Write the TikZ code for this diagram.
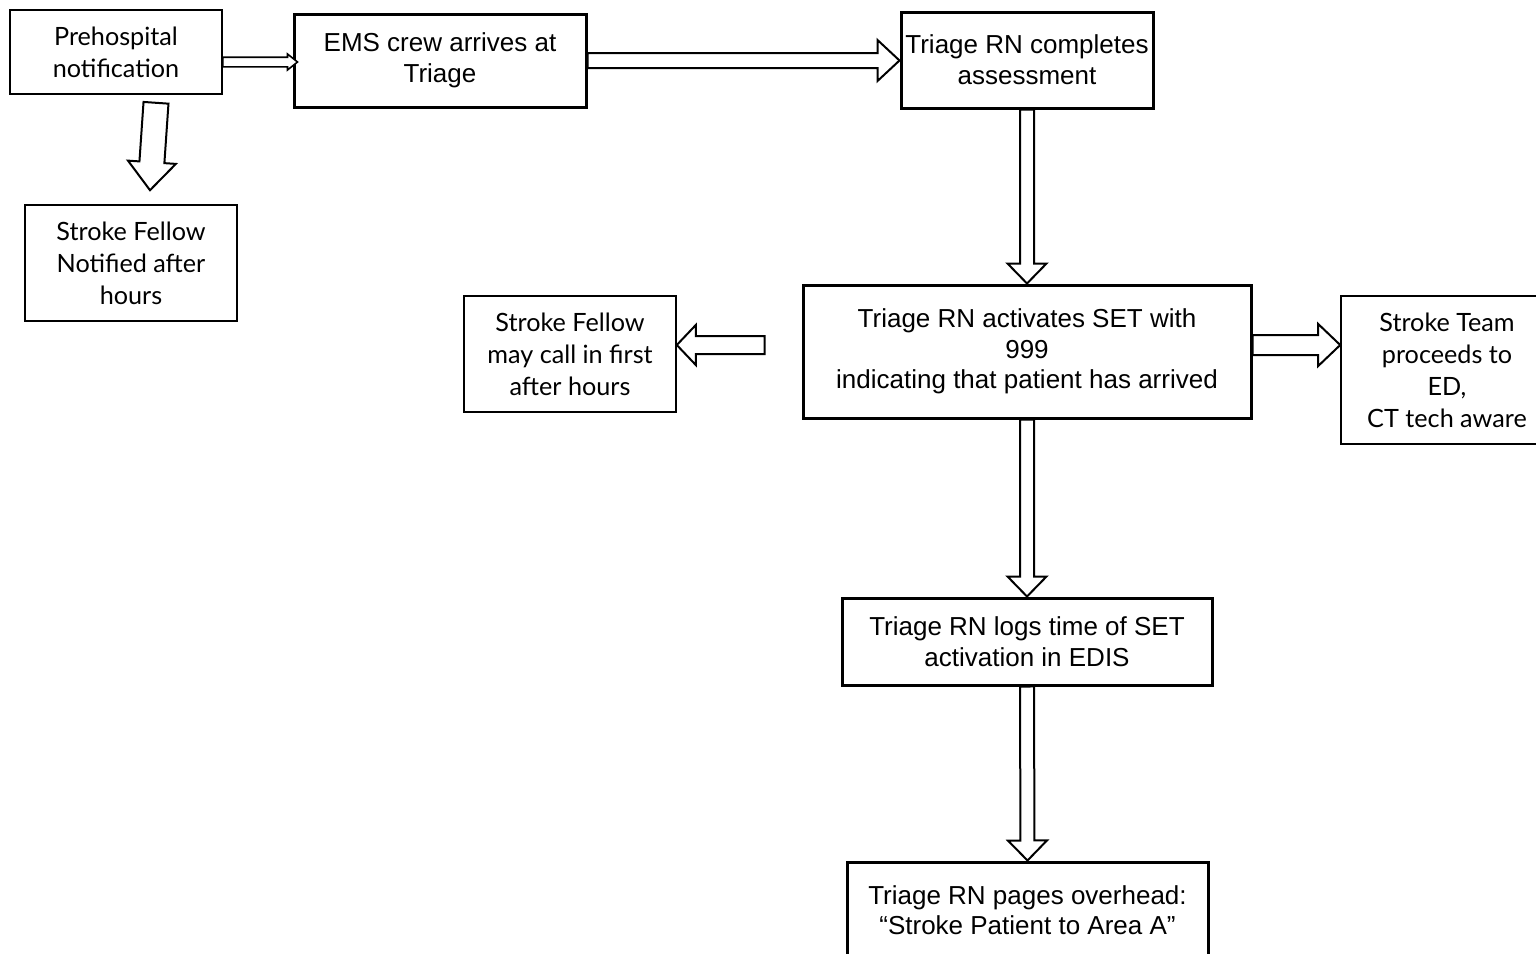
\documentclass[tikz,border=0pt]{standalone}
\usepackage{fontspec}
\setmainfont{Liberation Sans}
\newfontfamily\gillfont{Lato}
\usetikzlibrary{calc}

\tikzset{
  x=0.5pt, y=-0.5pt,
  thinbox/.style={draw, line width=0.8pt, inner sep=0pt, align=center,
    font=\gillfont\fontsize{12.6}{16}\selectfont},
  thickbox/.style={draw, line width=1.5pt, inner sep=0pt, align=center,
    font=\fontsize{13}{15.3}\selectfont},
  blockarr/.style={draw, fill=white, line width=1pt, line join=miter},
}

% hollow block arrow: [options] {tail} {tip} {shaft half width} {head half width} {head length}
\newcommand\blockarrow[6][]{%
  \draw[blockarr,#1]
    ($(#2)!#4!90:(#3)$)
    -- ($(#3)!#6!(#2)!#4!90:(#3)$)
    -- ($(#3)!#6!(#2)!#5!90:(#3)$)
    -- (#3)
    -- ($(#3)!#6!(#2)!#5!-90:(#3)$)
    -- ($(#3)!#6!(#2)!#4!-90:(#3)$)
    -- ($(#2)!#4!-90:(#3)$)
    -- cycle;}

\begin{document}
\begin{tikzpicture}
\useasboundingbox (0,0) rectangle (1536,953);
\clip (0,0) rectangle (1536,953);

% boxes
\node[thinbox, minimum width=106pt, minimum height=42pt] (pre) at (116,52)
  {Prehospital\\notification};
\node[thickbox, minimum width=146pt, minimum height=46.5pt] (ems) at (440,60.5)
  {EMS crew arrives at\\Triage};
\node[thickbox, minimum width=126pt, minimum height=48pt] (tcomp) at (1027,60)
  {Triage RN completes\\assessment};
\node[thinbox, minimum width=106pt, minimum height=58pt] (sfn) at (131,263)
  {Stroke Fellow\\Notified after\\hours};
\node[thinbox, minimum width=106pt, minimum height=58pt] (sfm) at (570,354)
  {Stroke Fellow\\may call in first\\after hours};
\node[thickbox, minimum width=224pt, minimum height=66.5pt] (act) at (1027,351.5)
  {Triage RN activates SET with\\999\\indicating that patient has arrived};
\node[thinbox, minimum width=106pt, minimum height=74pt] (st) at (1447,370)
  {Stroke Team\\proceeds to\\ED,\\CT tech aware};
\node[thickbox, minimum width=185pt, minimum height=43.5pt] (logs) at (1027,641.5)
  {Triage RN logs time of SET\\activation in EDIS};
\node[thickbox, minimum width=180.5pt, minimum height=48pt] (pages) at (1027.5,910)
  {Triage RN pages overhead:\\``Stroke Patient to Area A''};

% free ends of connectors
\coordinate (a1s) at ($(pre.east)+(0,10)$);
\coordinate (a1e) at ($(a1s -| ems.west)+(5,0)$);
\coordinate (a2s) at ($(pre.south)+(40,8)$);
\coordinate (a2e) at ($(sfn.north)+(19,-14)$);
\coordinate (a5s) at ($(act.west)+(-37,-6.5)$);
\coordinate (a6s) at ($(act.east)+(0,-6.5)$);

% connectors
\blockarrow[line width=0.8pt]{a1s}{a1e}{2.4pt}{4pt}{5pt}
\blockarrow{a2s}{a2e}{6.25pt}{12pt}{14pt}
\blockarrow{ems.east}{ems.east -| tcomp.west}{3.75pt}{10.25pt}{11pt}
\blockarrow{tcomp.south}{act.north}{3.5pt}{9.75pt}{10pt}
\blockarrow{a5s}{a5s -| sfm.east}{4.5pt}{10pt}{9.5pt}
\blockarrow{a6s}{a6s -| st.west}{5pt}{10.5pt}{11pt}
\blockarrow{act.south}{logs.north}{3.5pt}{9.75pt}{10pt}
\blockarrow{logs.south}{pages.north}{3.5pt}{9.75pt}{10pt}
\end{tikzpicture}
\end{document}
